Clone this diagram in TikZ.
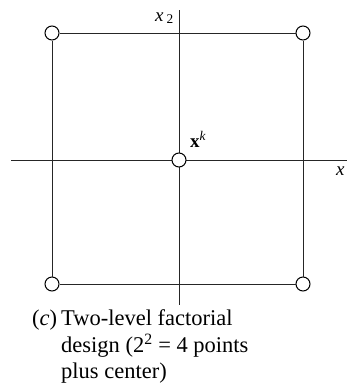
\documentclass[tikz,border=0pt]{standalone}
\usepackage{fontspec}
\setmainfont{Liberation Serif}
\begin{document}
\begin{tikzpicture}[x=1pt,y=-1pt,
  axis/.style={line width=0.9pt,black!85},
  frame/.style={line width=1pt,black!85},
  pt/.style={circle,draw=black,line width=1pt,fill=white,minimum size=14pt,inner sep=0pt},
  lbl/.style={inner sep=0pt,font=\fontsize{19}{22}\selectfont},
  captext/.style={inner sep=0pt,anchor=base west,font=\fontsize{22.5}{27}\selectfont}]
\path[use as bounding box] (0,0) rectangle (347,392);
% axes
\coordinate (vt) at (179,10);
\coordinate (vb) at (179,305);
\coordinate (hl) at (11,160);
\coordinate (hr) at (347,160);
\draw[axis] (vt) -- (vb);
\draw[axis] (hl) -- (hr);
% square
\node[pt] (tl) at (52,33) {};
\node[pt] (tr) at (303,33) {};
\node[pt] (bl) at (52,284) {};
\node[pt] (br) at (303,284) {};
\draw[frame] (tl) -- (tr) -- (br) -- (bl) -- (tl);
\node[pt] (c) at (179,160) {};
% labels
\node[lbl,anchor=base east] (x2) at (174,21) {\textit{x}\,\textsubscript{2}};
\node[lbl,anchor=base west] (xk) at (190,147) {\textbf{x}\textsuperscript{\textit{k}}};
\node[lbl,anchor=base west] (x1) at (336,175) {\textit{x}};
% caption
\node[captext] (c0) at (32,325) {(\textit{c})};
\node[captext] (c1) at (61,325) {Two-level factorial};
\node[captext] (c2) at (61,352) {design (2\textsuperscript{2} = 4 points};
\node[captext] (c3) at (61,378) {plus center)};
\end{tikzpicture}
\end{document}
